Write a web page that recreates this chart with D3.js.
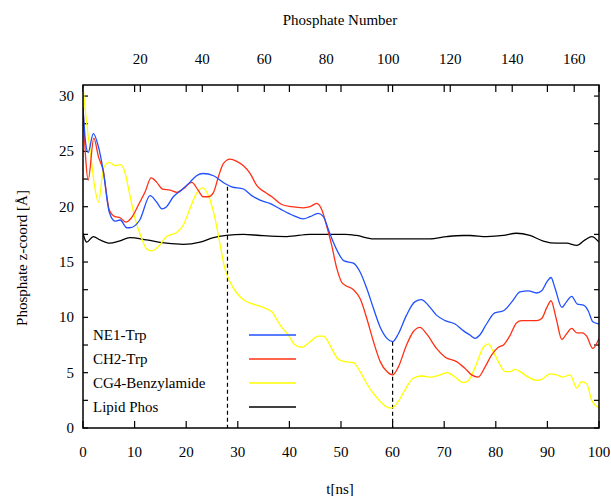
<!DOCTYPE html>
<html><head><meta charset="utf-8">
<script src="https://cdn.jsdelivr.net/npm/d3@7"></script>
<style>body{margin:0;background:#fff}</style>
</head><body><svg id="c" width="611" height="496"></svg>
<script>
// ---- data (t [ns], z [Å]) ----
const ne1Trp = [[0,29],[0.5,25.8],[1,24.9],[2,26.6],[3,25.4],[3.9,23.3],[5.1,19.5],[6.2,18.7],[7.2,18.8],[8.5,18.1],[9.1,18.1],[11,18.8],[13,21.0],[14.3,20.4],[15.3,19.8],[16.2,20.0],[17.5,20.9],[18.8,21.4],[20.7,22.2],[22,22.8],[23.3,23.0],[25.3,22.8],[27.5,22.1],[28.8,21.8],[31.1,21.6],[32.7,21.0],[34.3,20.6],[36.2,20.3],[38.2,19.8],[40.8,19.2],[42.7,18.9],[44,19.1],[45.6,19.4],[46.6,19.1],[47.5,18.0],[48.5,16.8],[49.5,15.8],[50.6,15.1],[52.4,14.9],[53.7,14.1],[55,12.6],[56.3,10.8],[57.6,9.1],[58.9,8.1],[60,7.8],[61.1,8.5],[62.7,10.2],[64.3,11.4],[65.6,11.6],[66.9,11.1],[68.5,10.2],[70.2,9.7],[72.1,9.4],[73.7,8.8],[75,8.4],[76,8.1],[76.9,8.4],[78.2,9.4],[79.8,10.4],[81.5,10.6],[83.1,11.4],[84.7,12.3],[86.3,12.4],[87.9,12.2],[88.9,12.4],[89.9,13.2],[90.7,13.6],[91.5,12.6],[92.8,10.9],[93.7,11.4],[94.7,11.9],[95.8,11.2],[97,11.1],[97.9,10.6],[98.8,9.6],[100,9.4]];
const ch2Trp = [[0,29],[0.5,24.5],[1,22.4],[2.1,26.2],[3,24.5],[3.9,23.3],[5.1,19.7],[6.2,19.1],[7.2,19.0],[8.3,18.6],[9.4,19.0],[11,20.4],[12,21.3],[13.2,22.6],[14.3,22.2],[15.4,21.6],[16.9,21.5],[18.2,21.3],[19.4,21.6],[21.1,22.2],[22.3,21.5],[23.3,20.9],[24.3,20.9],[25.3,21.3],[26.3,22.8],[27.2,23.9],[28.5,24.3],[29.8,24.1],[31.1,23.7],[32.4,23.0],[33.7,21.9],[35.3,21.3],[36.6,20.9],[38.5,20.2],[40.4,20.0],[42.7,19.9],[44,20.0],[45.3,20.3],[46.3,19.7],[47.2,18.3],[48.2,16.5],[49.2,14.4],[50.1,13.2],[50.8,12.9],[52.4,12.5],[53.7,11.7],[55,9.9],[56.3,7.8],[57.6,6.0],[58.9,5.1],[60,4.8],[61.1,5.5],[62.7,7.5],[64,8.7],[65.3,9.1],[66.6,8.5],[68.5,7.2],[70.2,6.4],[72.4,6.0],[74,5.4],[75.3,4.8],[76.6,4.6],[77.9,5.5],[79.2,6.6],[80.5,7.3],[81.5,7.5],[82.8,8.4],[84,9.5],[85,9.7],[86.6,9.7],[87.9,9.7],[88.9,9.9],[89.9,10.9],[90.7,11.5],[91.7,9.9],[92.8,8.0],[93.7,8.5],[94.7,9.0],[95.7,8.6],[96.8,8.6],[97.6,8.3],[98.8,7.2],[100,8.1]];
const cg4Benzylamide = [[0,30.8],[0.6,28],[1.4,25],[2.2,22],[3,20.4],[4,23.5],[5.1,24.0],[6.2,23.7],[7.2,23.8],[8,23.3],[9.1,21.0],[10.1,18.9],[11.4,17.1],[12.3,16.2],[13.3,16.0],[14.6,16.4],[16.2,17.3],[18.2,17.7],[19.4,18.3],[20.7,19.8],[22,21.2],[23.2,21.7],[24.3,21.0],[25.6,18.9],[26.6,16.5],[27.5,14.4],[28.5,13.2],[29.8,12.2],[31.4,11.5],[33,11.2],[34.9,10.9],[36.6,10.5],[38.2,9.3],[39.8,8.4],[41.1,7.5],[42.4,7.3],[44,7.8],[45.6,8.3],[46.6,8.3],[47.5,7.8],[48.5,6.9],[49.5,6.2],[50.8,6.0],[52.4,5.9],[53.7,5.1],[55,4.0],[56.3,3.1],[57.6,2.4],[58.9,1.9],[59.8,1.8],[61.1,2.4],[62.7,3.7],[64,4.5],[65.6,4.7],[67.6,4.6],[69.2,4.8],[70.6,5.0],[72.1,4.6],[73.7,4.1],[74.7,4.3],[76,5.5],[77.6,7.3],[78.6,7.6],[79.5,6.9],[80.5,6.0],[81.8,5.1],[82.8,5.1],[83.7,5.3],[84.7,5.1],[86.3,4.6],[87.9,4.3],[88.9,4.4],[90.5,4.9],[91.8,4.8],[93,4.6],[94.4,4.8],[95.7,3.6],[96.6,4.2],[97.6,4.0],[98.6,2.5],[100,1.8]];
const lipidPhos = [[0,17.6],[0.7,16.8],[2,17.3],[3.3,17.0],[5.2,16.7],[7,16.9],[9.1,17.2],[12.3,17.0],[16.2,16.7],[19.4,16.6],[22.7,16.8],[25.3,17.2],[27.8,17.4],[31.1,17.5],[34.3,17.4],[39.5,17.3],[44,17.5],[47.9,17.5],[50.8,17.5],[53,17.4],[56.3,17.1],[59.5,17.1],[62.7,17.1],[67.2,17.1],[70.5,17.3],[73.7,17.4],[75,17.4],[78.2,17.3],[81.5,17.4],[84,17.6],[86.6,17.4],[89.2,16.9],[91.8,16.7],[93.7,16.7],[95.7,16.5],[97.3,17.0],[98.6,17.3],[100,16.8]];
const seriesNames = ["NE1-Trp","CH2-Trp","CG4-Benzylamide","Lipid Phos"];
const seriesColors = ["#2050ff","#ff3015","#ffff00","#000000"];
const xTicks = [0,10,20,30,40,50,60,70,80,90,100];
const yTicks = [0,5,10,15,20,25,30];
const yMinorTicks = [2.5,7.5,12.5,17.5,22.5,27.5];
const x2Ticks = [20,40,60,80,100,120,140,160];
const markerT = [28,60];
const markerZ = [21.8,7.8];

const FONT = "'Liberation Serif','Times New Roman',Times,'Nimbus Roman','Nimbus Roman No9 L',FreeSerif,'Noto Serif','DejaVu Serif',serif";
const svg = d3.select("#c").attr("font-family",FONT);
const L=83,R=599,T=85,B=428;
const x = d3.scaleLinear().domain([0,100]).range([L,R]);
const y = d3.scaleLinear().domain([0,31]).range([B,T]);
const x2 = d3.scaleLinear().domain([1.5,168]).range([L,R]);
const fs = 15;

const g = svg.append("g");
function txt(xp,yp,s,anchor){
  return g.append("text").attr("x",xp).attr("y",yp).attr("text-anchor",anchor||"start")
    .style("font-family",FONT).attr("font-size",fs).attr("fill","#000").text(s);
}
// ticks
const tk = g.append("g").attr("stroke","#000").attr("stroke-width",1.2);
xTicks.forEach(v=>{
  tk.append("line").attr("x1",x(v)).attr("x2",x(v)).attr("y1",B).attr("y2",B-7);
  tk.append("line").attr("x1",x(v)).attr("x2",x(v)).attr("y1",T).attr("y2",T+7);
});
x2Ticks.forEach(v=>{
  tk.append("line").attr("x1",x2(v)).attr("x2",x2(v)).attr("y1",T).attr("y2",T+7);
});
yTicks.concat(yMinorTicks).forEach(v=>{
  tk.append("line").attr("x1",L).attr("x2",L+5).attr("y1",y(v)).attr("y2",y(v));
  tk.append("line").attr("x1",R).attr("x2",R-5).attr("y1",y(v)).attr("y2",y(v));
});
// labels
xTicks.forEach(v=>txt(x(v),457,v,"middle"));
x2Ticks.forEach(v=>txt(x2(v),64,v,"middle"));
yTicks.forEach(v=>txt(74,y(v)+5,v,"end"));
txt(340,25,"Phosphate Number","middle");
txt(340,494,"t[ns]","middle");
txt(0,0,"Phosphate z-coord [Å]","middle").attr("transform","translate(27,258) rotate(-90)");

// dashed markers
markerT.forEach((t,i)=>{
  g.append("line").attr("x1",x(t)).attr("x2",x(t)).attr("y1",y(markerZ[i])).attr("y2",B)
   .attr("stroke","#000").attr("stroke-width",1.2).attr("stroke-dasharray","4,3");
});

// series
const line = d3.line().x(d=>x(d[0])).y(d=>y(d[1])).curve(d3.curveMonotoneX);
svg.append("clipPath").attr("id","pc").append("rect").attr("x",L).attr("y",T).attr("width",R-L).attr("height",B-T);
const allSeries=[ne1Trp,ch2Trp,cg4Benzylamide,lipidPhos];
const sg = g.append("g").attr("clip-path","url(#pc)");
[3,2,1,0].forEach(i=>{
  sg.append("path").datum(allSeries[i]).attr("d",line).attr("fill","none")
    .attr("stroke",seriesColors[i]).attr("stroke-width",1.3).attr("stroke-linejoin","round");
});
// legend
const legY=[335,359,383,407];
seriesNames.forEach((n,i)=>{
  txt(93,legY[i]+5,n);
  g.append("line").attr("x1",249).attr("x2",296).attr("y1",legY[i]).attr("y2",legY[i])
   .attr("stroke",seriesColors[i]).attr("stroke-width",1.3);
});
// frame
g.append("rect").attr("x",L).attr("y",T).attr("width",R-L).attr("height",B-T)
 .attr("fill","none").attr("stroke","#000").attr("stroke-width",1.5);
</script></body></html>
